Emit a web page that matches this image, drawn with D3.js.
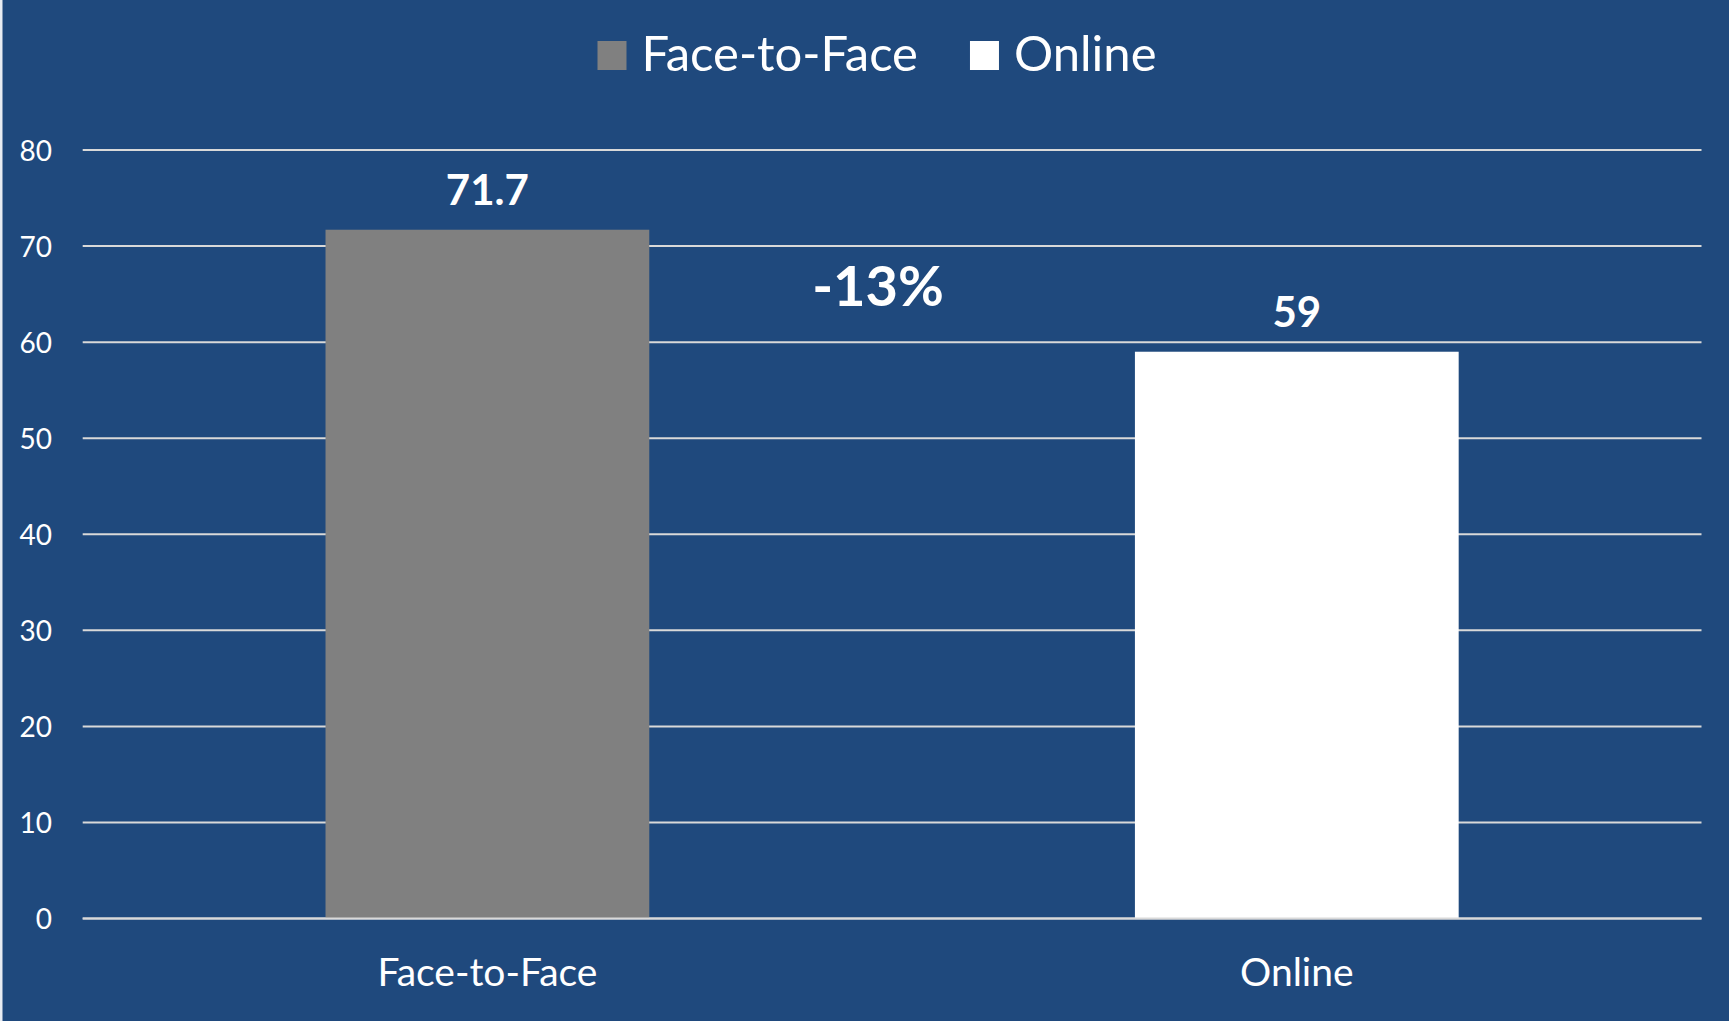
<!DOCTYPE html>
<html>
<head>
<meta charset="utf-8">
<script src="https://cdn.jsdelivr.net/npm/d3@7"></script>
<style>
  html, body { margin: 0; padding: 0; background: #1F497D; }
  svg { display: block; }
  text { font-family: Lato, "Open Sans", sans-serif; fill: #ffffff; }
</style>
</head>
<body>
<svg id="chart" width="1729" height="1021"></svg>
<script>
// ---- data ----
const categories = ["Face-to-Face", "Online"];
const values = [71.7, 59];
const valueLabels = ["71.7", "59"];
const barColors = ["#808080", "#ffffff"];
const yTicks = [0, 10, 20, 30, 40, 50, 60, 70, 80];
const changeLabel = "-13%";

// ---- layout ----
const W = 1729, H = 1021;
const margin = { left: 82.7, right: W - 1701.5, top: 150, bottom: H - 918.5 };

const svg = d3.select("#chart");
svg.append("rect").attr("x", 0).attr("y", 0).attr("width", W).attr("height", H).attr("fill", "#1F497D");
svg.append("rect").attr("x", 0).attr("y", 0).attr("width", 2.5).attr("height", H).attr("fill", "#e8ecf2");

const x = d3.scaleBand()
  .domain(categories)
  .range([margin.left, W - margin.right])
  .paddingInner(0.6)
  .paddingOuter(0.3);

const y = d3.scaleLinear()
  .domain([0, 80])
  .range([H - margin.bottom, margin.top]);

// gridlines
svg.append("g")
  .selectAll("line")
  .data(yTicks)
  .join("line")
  .attr("x1", margin.left)
  .attr("x2", W - margin.right)
  .attr("y1", d => y(d))
  .attr("y2", d => y(d))
  .attr("stroke", "#d9d9d9")
  .attr("stroke-width", 2);

// y axis labels
const yAxis = d3.axisLeft(y).tickValues(yTicks).tickSize(0).tickPadding(0);
const gy = svg.append("g").attr("transform", `translate(52,0)`).call(yAxis);
gy.select(".domain").remove();
gy.selectAll("text")
  .style("fill", "#ffffff")
  .attr("font-size", 28)
  .attr("font-family", "Lato, 'Open Sans', sans-serif")
  .attr("dy", "0.36em");

// bars
svg.append("g")
  .selectAll("rect")
  .data(categories)
  .join("rect")
  .attr("x", d => x(d))
  .attr("width", x.bandwidth())
  .attr("y", (d, i) => y(values[i]))
  .attr("height", (d, i) => y(0) - y(values[i]))
  .attr("fill", (d, i) => barColors[i]);

// baseline over bars
svg.append("line")
  .attr("x1", margin.left).attr("x2", W - margin.right)
  .attr("y1", y(0)).attr("y2", y(0))
  .attr("stroke", "#d9d9d9").attr("stroke-width", 2);

// value labels
svg.append("g")
  .selectAll("text")
  .data(categories)
  .join("text")
  .attr("x", d => x(d) + x.bandwidth() / 2)
  .attr("y", (d, i) => y(values[i]) - 25)
  .attr("text-anchor", "middle")
  .attr("font-weight", 700)
  .attr("font-size", 42)
  .text((d, i) => valueLabels[i]);

// x axis labels
const xAxis = d3.axisBottom(x).tickSize(0).tickPadding(0);
const gx = svg.append("g").attr("transform", `translate(0,${y(0)})`).call(xAxis);
gx.select(".domain").remove();
gx.selectAll("text")
  .attr("y", 0)
  .attr("dy", 0)
  .attr("transform", "translate(0,67)")
  .style("fill", "#ffffff")
  .attr("font-size", 39)
  .attr("font-family", "Lato, 'Open Sans', sans-serif");

// change annotation between bars
svg.append("text")
  .attr("x", (x(categories[0]) + x.bandwidth() + x(categories[1])) / 2 - 14)
  .attr("y", 306)
  .attr("text-anchor", "middle")
  .attr("font-weight", 700)
  .attr("font-size", 56)
  .text(changeLabel);

// legend
const legend = svg.append("g").attr("transform", "translate(597.5,0)");
let cx = 0;
categories.forEach((c, i) => {
  legend.append("rect")
    .attr("x", cx).attr("y", 41)
    .attr("width", 29).attr("height", 29)
    .attr("fill", barColors[i]);
  const t = legend.append("text")
    .attr("x", cx + 44).attr("y", 71)
    .attr("font-size", 49)
    .text(c);
  cx += 44 + t.node().getComputedTextLength() + 52;
});
</script>
</body>
</html>
